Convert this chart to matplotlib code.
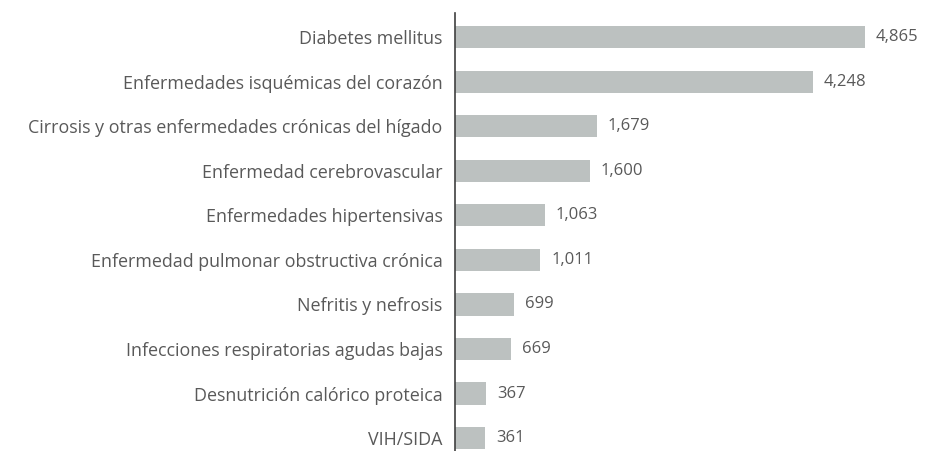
import matplotlib.pyplot as plt

causes = [
    'Diabetes mellitus',
    'Enfermedades isquémicas del corazón',
    'Cirrosis y otras enfermedades crónicas del hígado',
    'Enfermedad cerebrovascular',
    'Enfermedades hipertensivas',
    'Enfermedad pulmonar obstructiva crónica',
    'Nefritis y nefrosis',
    'Infecciones respiratorias agudas bajas',
    'Desnutrición calórico proteica',
    'VIH/SIDA',
]
deaths = [4865, 4248, 1679, 1600, 1063, 1011, 699, 669, 367, 361]

text_color = '#595959'
bar_color = '#bcc1c0'

plt.rcParams['font.family'] = ['Open Sans', 'DejaVu Sans']

fig = plt.figure(figsize=(9.26, 4.51), dpi=100)
ax = fig.add_axes([0.4914, 0.0, 0.5086, 0.971])

pos = list(range(len(causes)))
ax.barh(pos, deaths, height=0.5, color=bar_color)
for p, v in zip(pos, deaths):
    ax.text(v + 130, p, f'{v:,}', va='center', ha='left', fontsize=12, color=text_color)

ax.set_ylim(9.29, -0.54)
ax.set_xlim(0, 5587)
ax.set_yticks(pos)
ax.set_yticklabels(causes, fontsize=12.9, color=text_color)
ax.tick_params(axis='y', length=0, pad=9)
ax.set_xticks([])
for s in ['top', 'right', 'bottom']:
    ax.spines[s].set_visible(False)
ax.spines['left'].set_color('#404040')
ax.spines['left'].set_linewidth(1.2)

fig.savefig('out.png', dpi=100)
